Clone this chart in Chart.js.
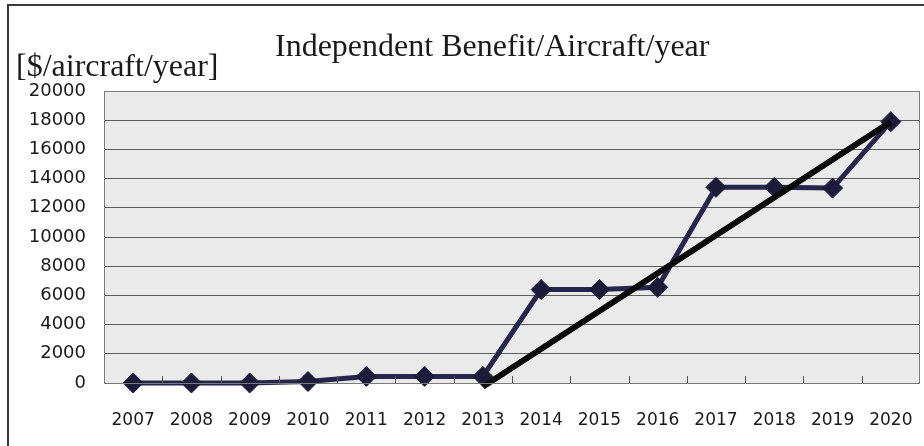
<!DOCTYPE html>
<html>
<head>
<meta charset="utf-8">
<style>
  html, body { margin: 0; padding: 0; background: #ffffff; }
  #wrap { width: 924px; height: 446px; }
</style>
<script src="https://cdn.jsdelivr.net/npm/chart.js@4"></script>
</head>
<body>
<div id="wrap"><canvas id="benefitChart" width="924" height="446"></canvas></div>
<script>
// chart values
const years = ["2007", "2008", "2009", "2010", "2011", "2012", "2013",
               "2014", "2015", "2016", "2017", "2018", "2019", "2020"];
const benefit = [0, 0, 0, 100, 450, 450, 450, 6400, 6400, 6550, 13400, 13400, 13350, 17900];
// straight trend from 2013 to 2020 (gaps spanned)
const trend = [null, null, null, null, null, null, -250, null, null, null, null, null, null, 17900];
const yTickValues = [0, 2000, 4000, 6000, 8000, 10000, 12000, 14000, 16000, 18000, 20000];

const chartTitle = "Independent Benefit/Aircraft/year";
const unitLabel = "[$/aircraft/year]";

// background, frame and texts
const decorPlugin = {
  id: "decor",
  beforeDraw(chart) {
    const ctx = chart.ctx;
    const a = chart.chartArea;
    ctx.save();
    ctx.fillStyle = "#ffffff";
    ctx.fillRect(0, 0, chart.width, chart.height);
    // outer frame (top and left)
    ctx.strokeStyle = "#3a3a3a";
    ctx.lineWidth = 2;
    ctx.beginPath();
    ctx.moveTo(924, 5);
    ctx.lineTo(8, 5);
    ctx.lineTo(8, 446);
    ctx.stroke();
    // plot area
    ctx.fillStyle = "#eaeaea";
    ctx.fillRect(a.left, a.top, a.right - a.left, a.bottom - a.top);
    ctx.restore();
  },
  afterDatasetsDraw(chart) {
    const ctx = chart.ctx;
    const a = chart.chartArea;
    const x = chart.scales.x;
    ctx.save();
    // plot border
    ctx.strokeStyle = "#7a7a7a";
    ctx.lineWidth = 1;
    ctx.strokeRect(a.left + 0.5, a.top + 0.5, a.right - a.left - 1, a.bottom - a.top);
    // small category ticks pointing up from the bottom
    ctx.strokeStyle = "#555555";
    const half = (x.getPixelForValue(1) - x.getPixelForValue(0)) / 2;
    for (let i = 0; i < years.length - 1; i++) {
      const px = Math.round(x.getPixelForValue(i) + half) + 0.5;
      ctx.beginPath();
      ctx.moveTo(px, a.bottom);
      ctx.lineTo(px, a.bottom - 7);
      ctx.stroke();
    }
    ctx.restore();
  },
  afterDraw(chart) {
    const ctx = chart.ctx;
    ctx.save();
    ctx.fillStyle = "#1a1a1a";
    ctx.font = "32px 'Liberation Serif', 'Times New Roman', serif";
    ctx.textBaseline = "alphabetic";
    ctx.textAlign = "left";
    ctx.fillText(chartTitle, 275, 56);
    ctx.fillText(unitLabel, 16, 76);
    ctx.restore();
  }
};

const ctx1 = document.getElementById("benefitChart").getContext("2d");

const benefitChart = new Chart(ctx1, {
  type: "line",
  data: {
    labels: years,
    datasets: [
      {
        label: "Trend",
        data: trend,
        spanGaps: true,
        borderColor: "#0a0a0a",
        borderWidth: 6,
        pointRadius: 0,
        tension: 0,
        clip: 10,
        order: 0,
      },
      {
        label: "Independent Benefit",
        data: benefit,
        borderColor: "#26264c",
        borderWidth: 5,
        pointStyle: "rectRot",
        pointRadius: 10,
        pointBackgroundColor: "#1c1c3a",
        pointBorderColor: "#1c1c3a",
        pointBorderWidth: 1,
        tension: 0,
        clip: 12,
        order: 1,
      },
    ],
  },
  options: {
    responsive: false,
    animation: false,
    events: [],
    layout: {
      autoPadding: false,
      padding: { top: 91, left: 0, right: 4, bottom: 0 },
    },
    scales: {
      x: {
        offset: true,
        grid: { display: false, drawTicks: false },
        border: { display: false },
        ticks: {
          color: "#1a1a1a",
          font: { family: "'DejaVu Sans', sans-serif", size: 17 },
          padding: 27,
          maxRotation: 0,
          autoSkip: false,
        },
        afterFit(scale) {
          scale.height = 63;
          scale.paddingLeft = 0;
          scale.paddingRight = 0;
        },
      },
      y: {
        min: 0,
        max: 20000,
        afterBuildTicks(scale) {
          scale.ticks = yTickValues.map((v) => ({ value: v }));
        },
        grid: {
          color: "#5e5e5e",
          lineWidth: 1,
          drawTicks: false,
        },
        border: { display: false },
        ticks: {
          color: "#1a1a1a",
          font: { family: "'DejaVu Sans', sans-serif", size: 18 },
          padding: 18,
          callback: function (value) {
            return String(value);
          },
        },
        afterFit(scale) {
          scale.width = 104;
          scale.paddingTop = 0;
          scale.paddingBottom = 0;
        },
      },
    },
    plugins: {
      legend: { display: false },
      title: { display: false },
      tooltip: { enabled: false },
    },
  },
  plugins: [decorPlugin],
});
</script>
</body>
</html>
